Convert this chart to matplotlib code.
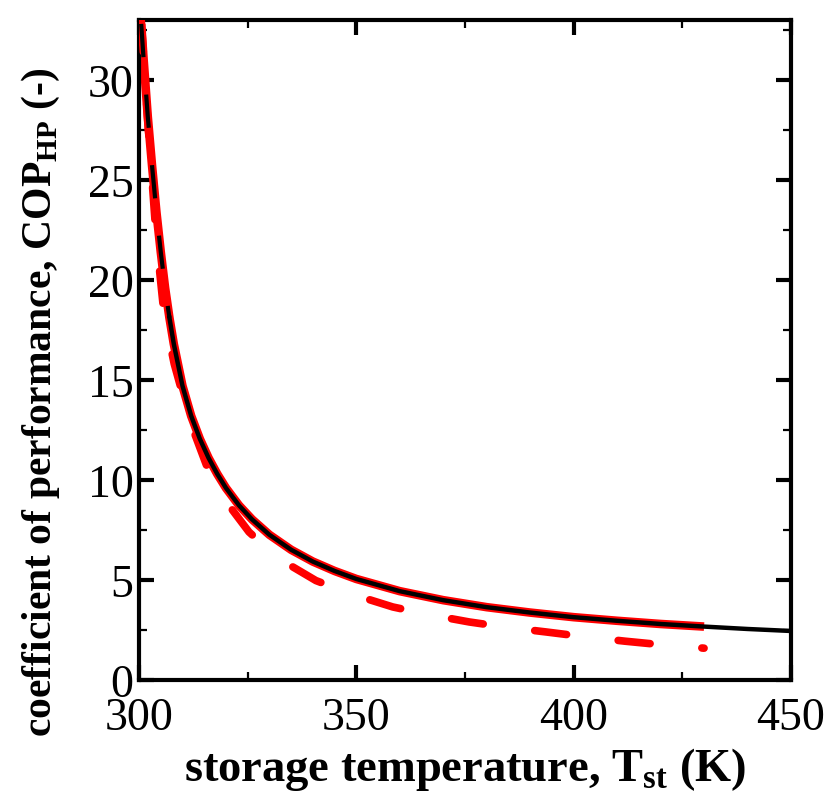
import matplotlib
matplotlib.use("Agg")
import matplotlib.pyplot as plt
from matplotlib.ticker import MultipleLocator

# Heat-pump COP versus storage temperature
T_model = [300.5, 301.0, 302.0, 303.0, 304.0, 305.0, 306.0, 307.0, 308.0, 310.0,
           312.0, 314.0, 316.0, 318.0, 320.0, 323.0, 326.0, 330.0, 335.0, 340.0,
           345.0, 350.0, 360.0, 370.0, 380.0, 390.0, 400.0, 410.0, 420.0, 430.0,
           440.0, 450.0]
COP_model = [32.8, 31.2, 28.2, 25.7, 23.4, 21.4, 19.6, 18.1, 16.8, 14.7,
             13.2, 12.05, 11.1, 10.3, 9.6, 8.73, 8.03, 7.26, 6.51, 5.92,
             5.45, 5.05, 4.44, 3.99, 3.64, 3.37, 3.14, 2.96, 2.80, 2.67,
             2.55, 2.45]

T_ref = T_model[:-2]
COP_ref = COP_model[:-2]

T_real = [300.5, 302.0, 304.0, 305.8, 308.1, 310.4, 312.3, 316.1, 319.4, 325.3,
          331.9, 340.7, 348.8, 358.4, 366.4, 376.0, 384.0, 393.7, 401.8, 411.8,
          419.8, 430.0]
COP_real = [33.0, 28.0, 22.0, 18.2, 15.8, 14.0, 12.6, 10.4, 9.1, 7.4,
            6.1, 4.97, 4.3, 3.65, 3.28, 2.9, 2.65, 2.4, 2.18, 1.94,
            1.77, 1.59]

T_split = 307.0  # model curve drawn dashed above this temperature

x_ticks = [300, 350, 400, 450]
y_ticks = [0, 5, 10, 15, 20, 25, 30]

plt.rcParams['font.family'] = ['Liberation Serif', 'DejaVu Serif']
plt.rcParams['mathtext.fontset'] = 'custom'
plt.rcParams['mathtext.rm'] = 'Liberation Serif'
plt.rcParams['mathtext.bf'] = 'Liberation Serif:bold'

fig = plt.figure(figsize=(8.30, 8.04), dpi=100)
ax = fig.add_axes([0.1675, 0.153, 0.7855, 0.821])

ax.plot(T_ref, COP_ref, color='red', lw=6.2, solid_capstyle='butt', zorder=2)
ax.plot(T_real, COP_real, color='red', lw=5.5, dashes=(4.2, 6.8),
        dash_capstyle='round', zorder=3)

lo = [i for i, t in enumerate(T_model) if t <= T_split]
hi = [i for i, t in enumerate(T_model) if t >= T_split]
ax.plot([T_model[i] for i in lo], [COP_model[i] for i in lo], color='black',
        lw=3.0, dashes=(8, 9), dash_capstyle='butt', zorder=4)
ax.plot([T_model[i] for i in hi], [COP_model[i] for i in hi], color='black',
        lw=3.2, zorder=5)

ax.set_xlim(300, 450)
ax.set_ylim(0, 33)
ax.set_xticks(x_ticks)
ax.set_yticks(y_ticks)
ax.xaxis.set_minor_locator(MultipleLocator(25))
ax.yaxis.set_minor_locator(MultipleLocator(2.5))

ax.tick_params(which='both', direction='in', top=True, right=True,
               labelsize=33, color='black')
ax.tick_params(which='major', length=11, width=3)
ax.tick_params(which='minor', length=6, width=1.6)
ax.tick_params(axis='x', which='major', pad=12)
ax.tick_params(axis='y', which='major', pad=4)
for s in ax.spines.values():
    s.set_linewidth(3)

ax.set_xlabel(r'storage temperature, T$_{\mathbf{st}}$ (K)', fontsize=33.5,
              fontweight='bold', labelpad=4)
ax.set_ylabel(r'coefficient of performance, COP$_{\mathbf{HP}}$ (-)',
              fontsize=30, fontweight='bold')
ax.yaxis.set_label_coords(-0.118, 0.423)

fig.savefig('out.png', dpi=100)
